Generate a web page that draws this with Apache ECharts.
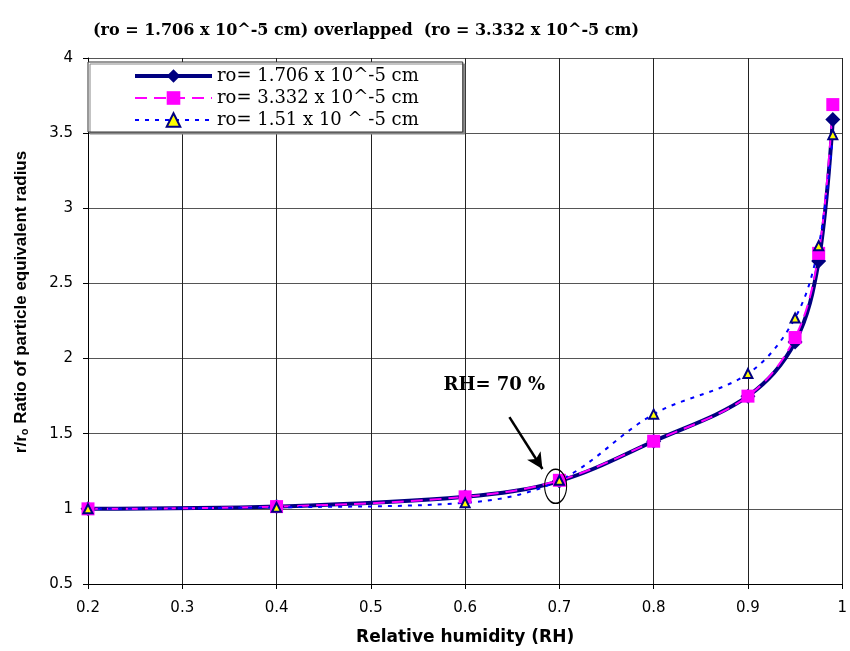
<!DOCTYPE html>
<html>
<head>
<meta charset="utf-8">
<script src="https://cdn.jsdelivr.net/npm/echarts@6/dist/echarts.min.js"></script>
<style>
  html, body { margin: 0; padding: 0; background: #fff; }
  #chart { width: 850px; height: 651px; }
</style>
</head>
<body>
<div id="chart"></div>
<script>
// Relative humidity sample points
const rh = [0.2, 0.4, 0.6, 0.7, 0.8, 0.9, 0.95, 0.975, 0.99];
// r/ro growth ratio for three dry particle radii
const ratioA = [1.0, 1.015, 1.08, 1.185, 1.45, 1.75, 2.11, 2.65, 3.59];   // ro = 1.706e-5 cm
const ratioB = [1.0, 1.015, 1.08, 1.19, 1.45, 1.75, 2.14, 2.70, 3.69];    // ro = 3.332e-5 cm
const ratioC = [1.0, 1.01, 1.04, 1.19, 1.63, 1.90, 2.27, 2.75, 3.49];     // ro = 1.51e-5 cm

const seriesNames = ['ro= 1.706 x 10^-5 cm', 'ro= 3.332 x 10^-5 cm', 'ro= 1.51 x 10 ^ -5 cm'];
const xTicks = { min: 0.2, max: 1, step: 0.1 };
const yTicks = { min: 0.5, max: 4, step: 0.5 };

// Annotation anchors (data space)
const noteText = 'RH= 70 %';
const notePos = [0.631, 1.82];
const arrowFrom = [0.647, 1.61];
const arrowTo = [0.682, 1.265];
const ringPos = [0.696, 1.15];

const pairs = (ys) => rh.map((x, i) => [x, ys[i]]);
const tickText = (v) => String(Math.round(v * 10) / 10);

const chart = echarts.init(document.getElementById('chart'), null, { renderer: 'canvas' });

chart.setOption({
  animation: false,
  backgroundColor: '#fff',
  title: {
    text: '(ro = 1.706 x 10^-5 cm) overlapped  (ro = 3.332 x 10^-5 cm)',
    left: 88,
    top: 18,
    textStyle: { fontFamily: 'DejaVu Serif', fontWeight: 'bold', fontSize: 16, color: '#000' }
  },
  legend: {
    orient: 'vertical',
    left: 88,
    top: 62,
    padding: [5, 44, 3, 45],
    itemGap: 4,
    itemWidth: 77,
    itemHeight: 17,
    backgroundColor: '#fff',
    borderColor: '#333',
    borderWidth: 1,
    shadowColor: '#888',
    shadowOffsetX: 2,
    shadowOffsetY: 2,
    shadowBlur: 0,
    lineStyle: { width: 'inherit' },
    textStyle: { fontFamily: 'DejaVu Serif', fontSize: 18, color: '#000' },
    data: seriesNames
  },
  grid: { left: 88, right: 5, top: 58, bottom: 66, containLabel: false },
  xAxis: {
    type: 'value',
    min: xTicks.min,
    max: xTicks.max,
    interval: xTicks.step,
    name: 'Relative humidity (RH)',
    nameLocation: 'middle',
    nameGap: 45,
    nameTextStyle: { fontFamily: 'DejaVu Sans', fontWeight: 'bold', fontSize: 17, color: '#000' },
    axisLine: { lineStyle: { color: '#000', width: 1 } },
    axisTick: { show: true, inside: false, length: 5, lineStyle: { color: '#000' } },
    axisLabel: { margin: 17, fontFamily: 'DejaVu Sans', fontSize: 15, color: '#000', formatter: tickText },
    splitLine: { show: true, lineStyle: { color: '#222', width: 1 } }
  },
  yAxis: {
    type: 'value',
    min: yTicks.min,
    max: yTicks.max,
    interval: yTicks.step,
    name: '{m|r/r}{s|o}{m| Ratio of particle equivalent radius}',
    nameLocation: 'middle',
    nameRotate: 90,
    nameGap: 58,
    nameTextStyle: {
      padding: [0, 0, 0, 38],
      rich: {
        m: { fontFamily: 'Liberation Sans', fontWeight: 'bold', fontSize: 17, color: '#000' },
        s: { fontFamily: 'Liberation Sans', fontWeight: 'bold', fontSize: 11, color: '#000', verticalAlign: 'bottom', padding: [7, 0, 0, 0] }
      }
    },
    axisLine: { show: true, lineStyle: { color: '#000', width: 1 } },
    axisTick: { show: true, inside: false, length: 5, lineStyle: { color: '#000' } },
    axisLabel: { margin: 15, fontFamily: 'DejaVu Sans', fontSize: 15, color: '#000', formatter: tickText },
    splitLine: { show: true, lineStyle: { color: '#555', width: 1 } }
  },
  series: [
    {
      name: seriesNames[0],
      type: 'line',
      data: pairs(ratioA),
      smooth: 0.35,
      symbol: 'diamond',
      symbolSize: 15,
      lineStyle: { color: '#000080', width: 4 },
      itemStyle: { color: '#000080' },
      markLine: {
        silent: true,
        symbol: ['none', 'arrow'],
        symbolSize: [12, 16],
        label: { show: false },
        lineStyle: { color: '#000', width: 2.5, type: 'solid' },
        data: [[{ coord: arrowFrom }, { coord: arrowTo }]]
      },
      markPoint: {
        silent: true,
        data: [
          {
            coord: ringPos,
            symbol: 'circle',
            symbolSize: [22, 34],
            itemStyle: { color: 'rgba(0,0,0,0)', borderColor: '#000', borderWidth: 1.3 },
            label: { show: false }
          },
          {
            coord: notePos,
            symbol: 'circle',
            symbolSize: 1,
            itemStyle: { color: 'rgba(0,0,0,0)' },
            label: { show: true, position: 'inside', formatter: noteText,
              fontFamily: 'DejaVu Serif', fontWeight: 'bold', fontSize: 18, color: '#000' }
          }
        ]
      }
    },
    {
      name: seriesNames[1],
      type: 'line',
      data: pairs(ratioB),
      smooth: 0.35,
      symbol: 'rect',
      symbolSize: 13,
      lineStyle: { color: '#FF00FF', width: 2, type: [12, 7] },
      itemStyle: { color: '#FF00FF' }
    },
    {
      name: seriesNames[2],
      type: 'line',
      data: pairs(ratioC),
      smooth: 0.35,
      symbol: 'triangle',
      symbolSize: 9,
      lineStyle: { color: '#0000FF', width: 2, type: [4, 6] },
      itemStyle: { color: '#FFFF00', borderColor: '#000080', borderWidth: 2 }
    }
  ]
});
</script>
</body>
</html>
